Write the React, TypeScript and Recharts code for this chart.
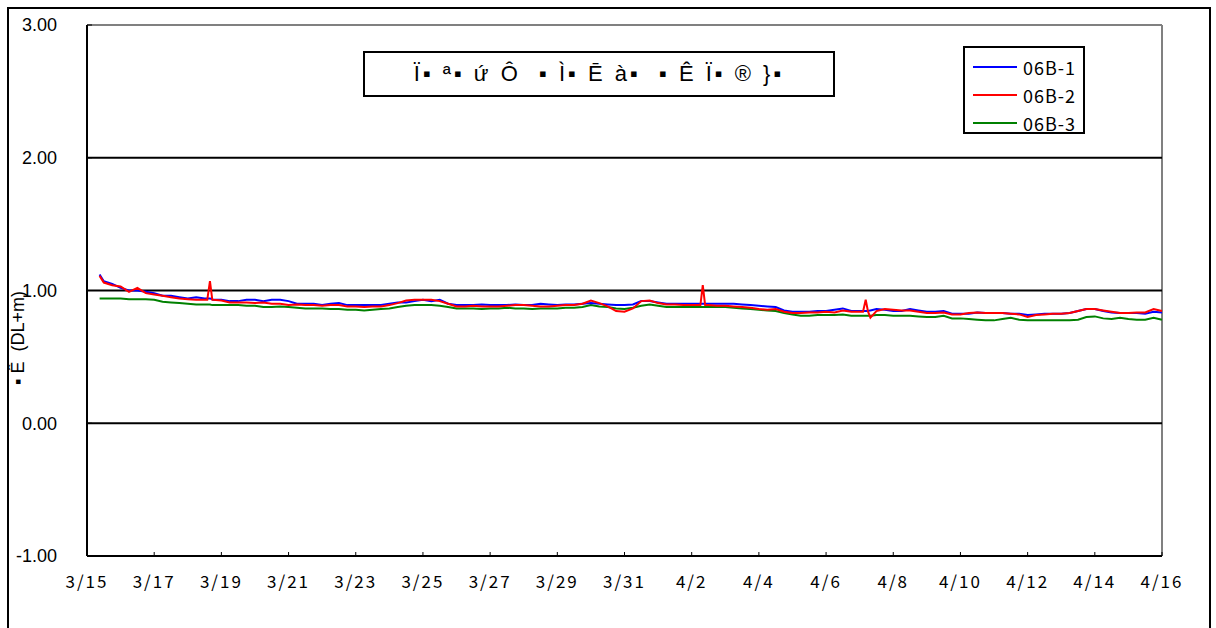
import React from 'react';
import { LineChart, Line, XAxis, YAxis, ReferenceLine } from 'recharts';

// time in days since 3/15 00:00
const days = [
  0.375, 0.5, 0.75, 1, 1.25, 1.5, 1.75, 2, 2.25, 2.5, 2.75, 3, 3.25, 3.5, 3.58, 3.66, 3.73, 3.75,
  4, 4.25, 4.5, 4.75, 5, 5.25, 5.5, 5.75, 6, 6.25, 6.5, 6.75, 7, 7.25, 7.5, 7.75,
  8, 8.25, 8.5, 8.75, 9, 9.25, 9.5, 9.75, 10, 10.25, 10.5, 10.75, 11, 11.25, 11.5, 11.75,
  12, 12.25, 12.5, 12.75, 13, 13.25, 13.5, 13.75, 14, 14.25, 14.5, 14.75, 15, 15.25, 15.5, 15.75,
  16, 16.25, 16.5, 16.75, 17, 17.25, 17.5, 17.75, 18, 18.2, 18.26, 18.33, 18.4, 18.5, 18.75, 19, 19.25, 19.5, 19.75,
  20, 20.25, 20.5, 20.75, 21, 21.25, 21.5, 21.75, 22, 22.25, 22.5, 22.75, 23, 23.1, 23.18, 23.25, 23.32, 23.5, 23.75,
  24, 24.25, 24.5, 24.75, 25, 25.25, 25.5, 25.75, 26, 26.25, 26.5, 26.75, 27, 27.25, 27.5, 27.75,
  28, 28.25, 28.5, 28.75, 29, 29.25, 29.5, 29.75, 30, 30.25, 30.5, 30.75, 31, 31.25, 31.5, 31.75, 32,
];

const b1 = [
  1.12, 1.07, 1.05, 1.02, 1.0, 1.0, 0.99, 0.98, 0.96, 0.96, 0.95, 0.94, 0.95, 0.94, 0.94, 0.94, 0.935, 0.93,
  0.93, 0.92, 0.92, 0.93, 0.93, 0.92, 0.93, 0.93, 0.92, 0.9, 0.9, 0.9, 0.89, 0.9, 0.905, 0.89,
  0.89, 0.89, 0.89, 0.89, 0.9, 0.91, 0.91, 0.92, 0.93, 0.92, 0.93, 0.9, 0.89, 0.89, 0.89, 0.895,
  0.89, 0.89, 0.89, 0.895, 0.89, 0.89, 0.9, 0.895, 0.89, 0.895, 0.895, 0.9, 0.905, 0.9, 0.895, 0.89,
  0.89, 0.895, 0.92, 0.92, 0.91, 0.9, 0.9, 0.9, 0.9, 0.9, 0.9, 0.9, 0.9, 0.9, 0.9, 0.9, 0.9, 0.895, 0.89,
  0.885, 0.88, 0.875, 0.85, 0.84, 0.84, 0.84, 0.845, 0.845, 0.855, 0.865, 0.845, 0.845, 0.845, 0.845, 0.845, 0.85, 0.86, 0.855,
  0.845, 0.845, 0.86, 0.85, 0.84, 0.84, 0.845, 0.825, 0.825, 0.825, 0.835, 0.83, 0.83, 0.83, 0.825, 0.825,
  0.815, 0.82, 0.825, 0.825, 0.825, 0.83, 0.845, 0.86, 0.86, 0.845, 0.835, 0.83, 0.83, 0.83, 0.825, 0.84, 0.835,
];

const b2 = [
  1.11, 1.06, 1.04, 1.03, 0.99, 1.02, 0.98, 0.97, 0.96, 0.95, 0.94, 0.935, 0.93, 0.93, 0.93, 1.07, 0.93, 0.93,
  0.925, 0.91, 0.91, 0.91, 0.905, 0.91, 0.9, 0.9, 0.89, 0.895, 0.89, 0.89, 0.885, 0.89, 0.89, 0.88,
  0.88, 0.875, 0.88, 0.88, 0.89, 0.905, 0.925, 0.93, 0.93, 0.93, 0.92, 0.9, 0.88, 0.88, 0.885, 0.88,
  0.88, 0.88, 0.885, 0.89, 0.89, 0.885, 0.88, 0.88, 0.885, 0.89, 0.89, 0.9, 0.925, 0.905, 0.88, 0.845,
  0.84, 0.865, 0.92, 0.925, 0.905, 0.895, 0.895, 0.89, 0.89, 0.89, 0.89, 1.04, 0.89, 0.89, 0.885, 0.885, 0.88, 0.875, 0.87,
  0.86, 0.855, 0.86, 0.84, 0.83, 0.83, 0.835, 0.835, 0.84, 0.835, 0.85, 0.84, 0.84, 0.84, 0.93, 0.84, 0.795, 0.845, 0.86,
  0.855, 0.85, 0.85, 0.84, 0.83, 0.83, 0.835, 0.82, 0.82, 0.83, 0.835, 0.83, 0.83, 0.83, 0.825, 0.82,
  0.8, 0.815, 0.82, 0.825, 0.825, 0.83, 0.845, 0.86, 0.86, 0.85, 0.84, 0.83, 0.83, 0.835, 0.835, 0.86, 0.845,
];

const b3 = [
  0.94, 0.94, 0.94, 0.94, 0.935, 0.935, 0.935, 0.93, 0.915, 0.91, 0.905, 0.9, 0.895, 0.895, 0.895, 0.895, 0.89, 0.89,
  0.89, 0.89, 0.89, 0.885, 0.885, 0.875, 0.875, 0.88, 0.875, 0.87, 0.865, 0.865, 0.865, 0.86, 0.86, 0.855,
  0.855, 0.85, 0.855, 0.86, 0.865, 0.875, 0.885, 0.89, 0.89, 0.89, 0.885, 0.875, 0.865, 0.865, 0.865, 0.86,
  0.865, 0.865, 0.87, 0.865, 0.865, 0.86, 0.865, 0.865, 0.865, 0.87, 0.87, 0.875, 0.89, 0.88, 0.875, 0.865,
  0.86, 0.87, 0.885, 0.895, 0.885, 0.875, 0.875, 0.875, 0.875, 0.875, 0.875, 0.875, 0.875, 0.875, 0.875, 0.875, 0.87, 0.865, 0.86,
  0.855, 0.85, 0.845, 0.83, 0.82, 0.81, 0.81, 0.815, 0.815, 0.815, 0.82, 0.81, 0.81, 0.81, 0.81, 0.81, 0.81, 0.815, 0.815,
  0.81, 0.81, 0.81, 0.805, 0.8, 0.8, 0.81, 0.79, 0.79, 0.785, 0.78, 0.775, 0.775, 0.785, 0.795, 0.78,
  0.775, 0.775, 0.775, 0.775, 0.775, 0.775, 0.78, 0.8, 0.805, 0.79, 0.785, 0.795, 0.785, 0.78, 0.78, 0.795, 0.78,
];

const tickDays = [0, 2, 4, 6, 8, 10, 12, 14, 16, 18, 20, 22, 24, 26, 28, 30, 32];
const tickLabels = ['3/15', '3/17', '3/19', '3/21', '3/23', '3/25', '3/27', '3/29', '3/31', '4/2', '4/4', '4/6', '4/8', '4/10', '4/12', '4/14', '4/16'];
const yTicks = [-1, 0, 1, 2, 3];
const gridValues = [0, 1, 2];

const seriesNames = ['06B-1', '06B-2', '06B-3'];
const seriesColors = ['#0000ff', '#ff0000', '#008000'];

const titleText = 'Ï▪ ª▪ ứ Ô  ▪ Ì▪ Ē à▪  ▪ Ê Ï▪ ® }▪';
const yLabelText = '▪ Ê  (DL+m)';

const data = days.map((d, i) => ({ d, b1: b1[i], b2: b2[i], b3: b3[i] }));

const W = 1216;
const H = 628;

export default function App() {
  return (
    <div style={{ position: 'absolute', left: 0, top: 0, width: W, height: H, background: '#fff', overflow: 'hidden' }}>
      <div style={{ position: 'absolute', left: 7, top: 7, width: 1200, height: 660, border: '2px solid #000' }} />
      <div style={{ position: 'absolute', left: 0, top: 0 }}>
        <LineChart width={W} height={H} data={data} margin={{ top: 25, right: 54, bottom: 0, left: 0 }}>
          <XAxis
            type="number"
            dataKey="d"
            domain={[0, 32]}
            ticks={tickDays}
            interval={0}
            tickFormatter={(v: number) => tickLabels[tickDays.indexOf(v)] ?? ''}
            height={72}
            axisLine={{ stroke: '#000', strokeWidth: 2 }}
            tickLine={{ stroke: '#000', strokeWidth: 1 }}
            tickSize={-4}
            tickMargin={24}
            tick={{ fontSize: 17, fill: '#000', fontFamily: '"Noto Sans CJK JP"', letterSpacing: 2 }}
          />
          <YAxis
            type="number"
            domain={[-1, 3]}
            ticks={yTicks}
            interval={0}
            width={87}
            tickFormatter={(v: number) => v.toFixed(2)}
            axisLine={{ stroke: '#000', strokeWidth: 2 }}
            tickLine={{ stroke: '#000', strokeWidth: 1 }}
            tickSize={-5}
            tickMargin={35}
            tick={{ fontSize: 18, fill: '#000', fontFamily: '"Liberation Sans", Arial' }}
          />
          <ReferenceLine y={3} stroke="#808080" strokeWidth={2} ifOverflow="extendDomain" />
          <ReferenceLine x={32} stroke="#808080" strokeWidth={2} />
          {gridValues.map((g) => (
            <ReferenceLine key={g} y={g} stroke="#000" strokeWidth={2} />
          ))}
          <Line type="linear" dataKey="b3" stroke={seriesColors[2]} strokeWidth={2} dot={false} isAnimationActive={false} />
          <Line type="linear" dataKey="b1" stroke={seriesColors[0]} strokeWidth={2} dot={false} isAnimationActive={false} />
          <Line type="linear" dataKey="b2" stroke={seriesColors[1]} strokeWidth={2} dot={false} isAnimationActive={false} />
        </LineChart>
      </div>
      {/* Title box */}
      <div
        style={{
          position: 'absolute', left: 363, top: 51, width: 468, height: 42, border: '2px solid #000',
          display: 'flex', alignItems: 'center', justifyContent: 'center', background: '#fff',
          fontFamily: '"Liberation Sans", Arial', fontSize: 22, whiteSpace: 'pre', letterSpacing: 3,
        }}
      >
        {titleText}
      </div>
      {/* Legend box */}
      <div
        style={{
          position: 'absolute', left: 963, top: 46, width: 118, height: 84, border: '2px solid #000', background: '#fff',
        }}
      >
        {seriesNames.map((n, i) => (
          <div key={n} style={{ position: 'absolute', left: 0, top: 5 + i * 28, height: 28, display: 'flex', alignItems: 'center' }}>
            <div style={{ marginLeft: 8, width: 44, height: 2, background: seriesColors[i] }} />
            <span style={{ marginLeft: 6, fontFamily: '"Noto Sans CJK JP"', fontSize: 18, letterSpacing: 1 }}>{n}</span>
          </div>
        ))}
      </div>
      {/* Y axis label */}
      <div
        style={{
          position: 'absolute', left: 18, top: 338, transform: 'translate(-50%, -50%) rotate(-90deg)',
          fontFamily: '"Liberation Sans", Arial', fontSize: 18, whiteSpace: 'pre',
        }}
      >
        {yLabelText}
      </div>
    </div>
  );
}
